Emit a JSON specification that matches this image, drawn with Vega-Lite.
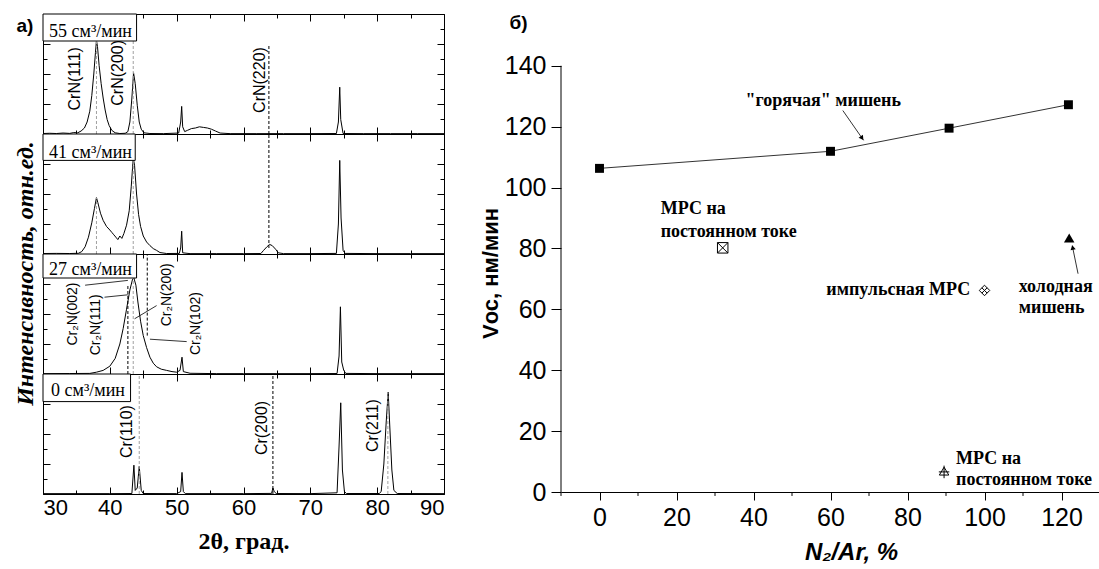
{
"$schema": "https://vega.github.io/schema/vega-lite/v6.json",
"background": "white",
"padding": {"left": 13, "top": 13, "right": 0, "bottom": 0},
"spacing": 33,
"config": {"view": {"stroke": null}, "axis": {"grid": false, "domainColor": "black", "tickColor": "black", "labelColor": "black", "titleColor": "black", "domainWidth": 1, "tickWidth": 1, "labelFont": "Liberation Sans", "labelFontSize": 23, "titleFont": "Liberation Sans", "labelOverlap": false}},
"datasets": {
"spec": [
{"p":"55","t":30,"i":0.004},{"p":"55","t":31,"i":0.006},{"p":"55","t":32,"i":0.004},{"p":"55","t":33,"i":0.008},{"p":"55","t":34,"i":0.005},{"p":"55","t":34.6,"i":0.012},{"p":"55","t":35.2,"i":0.01},{"p":"55","t":35.7,"i":0.025},{"p":"55","t":36.2,"i":0.05},{"p":"55","t":36.6,"i":0.1},{"p":"55","t":37.0,"i":0.19},{"p":"55","t":37.3,"i":0.32},{"p":"55","t":37.6,"i":0.5},{"p":"55","t":37.85,"i":0.68},{"p":"55","t":38.0,"i":0.78},{"p":"55","t":38.15,"i":0.73},{"p":"55","t":38.4,"i":0.57},{"p":"55","t":38.7,"i":0.42},{"p":"55","t":39.0,"i":0.3},{"p":"55","t":39.3,"i":0.2},{"p":"55","t":39.6,"i":0.12},{"p":"55","t":39.9,"i":0.07},{"p":"55","t":40.3,"i":0.03},{"p":"55","t":40.8,"i":0.01},{"p":"55","t":41.5,"i":0.004},{"p":"55","t":42.3,"i":0.006},{"p":"55","t":42.7,"i":0.02},{"p":"55","t":43.0,"i":0.1},{"p":"55","t":43.3,"i":0.3},{"p":"55","t":43.55,"i":0.51},{"p":"55","t":43.8,"i":0.42},{"p":"55","t":44.1,"i":0.24},{"p":"55","t":44.4,"i":0.1},{"p":"55","t":44.7,"i":0.04},{"p":"55","t":45.1,"i":0.01},{"p":"55","t":46,"i":0.004},{"p":"55","t":48,"i":0.003},{"p":"55","t":50.3,"i":0.008},{"p":"55","t":50.6,"i":0.1},{"p":"55","t":50.75,"i":0.23},{"p":"55","t":50.9,"i":0.06},{"p":"55","t":51.2,"i":0.02},{"p":"55","t":51.6,"i":0.03},{"p":"55","t":52.2,"i":0.045},{"p":"55","t":52.8,"i":0.05},{"p":"55","t":53.4,"i":0.06},{"p":"55","t":54.0,"i":0.055},{"p":"55","t":54.6,"i":0.05},{"p":"55","t":55.2,"i":0.04},{"p":"55","t":55.8,"i":0.025},{"p":"55","t":56.5,"i":0.008},{"p":"55","t":58,"i":0.003},{"p":"55","t":62,"i":0.003},{"p":"55","t":66,"i":0.003},{"p":"55","t":70,"i":0.003},{"p":"55","t":73.9,"i":0.004},{"p":"55","t":74.2,"i":0.1},{"p":"55","t":74.4,"i":0.39},{"p":"55","t":74.55,"i":0.12},{"p":"55","t":74.9,"i":0.004},{"p":"55","t":78,"i":0.003},{"p":"55","t":82,"i":0.003},{"p":"55","t":86,"i":0.003},{"p":"55","t":90,"i":0.003},
{"p":"41","t":30,"i":0.004},{"p":"41","t":32,"i":0.005},{"p":"41","t":34,"i":0.004},{"p":"41","t":35.3,"i":0.006},{"p":"41","t":35.8,"i":0.02},{"p":"41","t":36.3,"i":0.06},{"p":"41","t":36.8,"i":0.14},{"p":"41","t":37.3,"i":0.26},{"p":"41","t":37.7,"i":0.38},{"p":"41","t":38.0,"i":0.47},{"p":"41","t":38.2,"i":0.43},{"p":"41","t":38.6,"i":0.34},{"p":"41","t":39.0,"i":0.28},{"p":"41","t":39.5,"i":0.23},{"p":"41","t":40.0,"i":0.2},{"p":"41","t":40.3,"i":0.18},{"p":"41","t":40.6,"i":0.16},{"p":"41","t":40.9,"i":0.14},{"p":"41","t":41.2,"i":0.12},{"p":"41","t":41.5,"i":0.15},{"p":"41","t":41.8,"i":0.13},{"p":"41","t":42.1,"i":0.17},{"p":"41","t":42.5,"i":0.24},{"p":"41","t":42.9,"i":0.36},{"p":"41","t":43.2,"i":0.56},{"p":"41","t":43.5,"i":0.8},{"p":"41","t":43.7,"i":0.74},{"p":"41","t":44.0,"i":0.5},{"p":"41","t":44.3,"i":0.33},{"p":"41","t":44.6,"i":0.23},{"p":"41","t":45.0,"i":0.15},{"p":"41","t":45.5,"i":0.1},{"p":"41","t":46.0,"i":0.07},{"p":"41","t":46.5,"i":0.045},{"p":"41","t":47.0,"i":0.03},{"p":"41","t":47.5,"i":0.012},{"p":"41","t":48.5,"i":0.004},{"p":"41","t":50.4,"i":0.005},{"p":"41","t":50.6,"i":0.05},{"p":"41","t":50.75,"i":0.19},{"p":"41","t":50.9,"i":0.01},{"p":"41","t":52,"i":0.003},{"p":"41","t":56,"i":0.003},{"p":"41","t":60,"i":0.003},{"p":"41","t":62.6,"i":0.004},{"p":"41","t":63.0,"i":0.03},{"p":"41","t":63.5,"i":0.06},{"p":"41","t":63.9,"i":0.08},{"p":"41","t":64.3,"i":0.07},{"p":"41","t":64.8,"i":0.04},{"p":"41","t":65.2,"i":0.01},{"p":"41","t":66,"i":0.003},{"p":"41","t":70,"i":0.003},{"p":"41","t":73.9,"i":0.005},{"p":"41","t":74.2,"i":0.25},{"p":"41","t":74.4,"i":0.78},{"p":"41","t":74.6,"i":0.3},{"p":"41","t":74.9,"i":0.03},{"p":"41","t":75.2,"i":0.005},{"p":"41","t":80,"i":0.003},{"p":"41","t":85,"i":0.003},{"p":"41","t":90,"i":0.003},
{"p":"27","t":30,"i":0.003},{"p":"27","t":34,"i":0.004},{"p":"27","t":37,"i":0.005},{"p":"27","t":38,"i":0.015},{"p":"27","t":39,"i":0.03},{"p":"27","t":40,"i":0.065},{"p":"27","t":40.8,"i":0.13},{"p":"27","t":41.5,"i":0.25},{"p":"27","t":42.0,"i":0.38},{"p":"27","t":42.5,"i":0.54},{"p":"27","t":43.0,"i":0.7},{"p":"27","t":43.4,"i":0.79},{"p":"27","t":43.6,"i":0.8},{"p":"27","t":43.9,"i":0.74},{"p":"27","t":44.2,"i":0.6},{"p":"27","t":44.6,"i":0.44},{"p":"27","t":45.0,"i":0.32},{"p":"27","t":45.5,"i":0.22},{"p":"27","t":46.0,"i":0.14},{"p":"27","t":46.5,"i":0.09},{"p":"27","t":47.0,"i":0.06},{"p":"27","t":47.7,"i":0.04},{"p":"27","t":48.5,"i":0.03},{"p":"27","t":49.3,"i":0.02},{"p":"27","t":50.0,"i":0.015},{"p":"27","t":50.5,"i":0.03},{"p":"27","t":50.8,"i":0.14},{"p":"27","t":51.0,"i":0.02},{"p":"27","t":52,"i":0.006},{"p":"27","t":56,"i":0.003},{"p":"27","t":60,"i":0.003},{"p":"27","t":65,"i":0.003},{"p":"27","t":70,"i":0.003},{"p":"27","t":74.0,"i":0.004},{"p":"27","t":74.3,"i":0.15},{"p":"27","t":74.5,"i":0.56},{"p":"27","t":74.7,"i":0.1},{"p":"27","t":75.0,"i":0.03},{"p":"27","t":75.3,"i":0.005},{"p":"27","t":80,"i":0.003},{"p":"27","t":90,"i":0.003},
{"p":"0","t":30,"i":0.003},{"p":"0","t":35,"i":0.003},{"p":"0","t":40,"i":0.003},{"p":"0","t":43.3,"i":0.004},{"p":"0","t":43.6,"i":0.24},{"p":"0","t":43.8,"i":0.03},{"p":"0","t":44.1,"i":0.05},{"p":"0","t":44.4,"i":0.23},{"p":"0","t":44.7,"i":0.03},{"p":"0","t":45.0,"i":0.004},{"p":"0","t":50,"i":0.003},{"p":"0","t":50.6,"i":0.02},{"p":"0","t":50.8,"i":0.18},{"p":"0","t":51.0,"i":0.02},{"p":"0","t":51.3,"i":0.003},{"p":"0","t":55,"i":0.003},{"p":"0","t":60,"i":0.003},{"p":"0","t":64.2,"i":0.005},{"p":"0","t":64.4,"i":0.05},{"p":"0","t":64.6,"i":0.02},{"p":"0","t":64.9,"i":0.004},{"p":"0","t":70,"i":0.003},{"p":"0","t":74.0,"i":0.01},{"p":"0","t":74.3,"i":0.4},{"p":"0","t":74.55,"i":0.76},{"p":"0","t":74.8,"i":0.2},{"p":"0","t":75.1,"i":0.02},{"p":"0","t":75.4,"i":0.004},{"p":"0","t":80.3,"i":0.004},{"p":"0","t":80.6,"i":0.02},{"p":"0","t":81.0,"i":0.25},{"p":"0","t":81.35,"i":0.6},{"p":"0","t":81.65,"i":0.85},{"p":"0","t":81.9,"i":0.55},{"p":"0","t":82.2,"i":0.2},{"p":"0","t":82.5,"i":0.03},{"p":"0","t":83,"i":0.004},{"p":"0","t":90,"i":0.003}
],
"vlines": [
{"p":"55","x":38.0,"y1":0,"y2":0.78,"c":"g"},{"p":"55","x":43.5,"y1":0,"y2":1,"c":"g"},{"p":"55","x":63.8,"y1":0,"y2":0.74,"c":"k"},
{"p":"41","x":38.0,"y1":0,"y2":0.47,"c":"g"},{"p":"41","x":43.5,"y1":0,"y2":1,"c":"g"},{"p":"41","x":63.8,"y1":0.05,"y2":1,"c":"k"},
{"p":"27","x":42.7,"y1":0,"y2":0.74,"c":"k"},{"p":"27","x":43.5,"y1":0,"y2":0.8,"c":"g"},{"p":"27","x":45.6,"y1":0.32,"y2":1,"c":"k"},
{"p":"0","x":44.4,"y1":0,"y2":1,"c":"g"},{"p":"0","x":64.4,"y1":0,"y2":1,"c":"k"},{"p":"0","x":81.6,"y1":0,"y2":0.85,"c":"g"}
],
"legend": [
{"p":"55","x1":30,"x2":44.0,"y1":0.775,"y2":1,"tx":30.9,"ty":0.85,"text":"55 см³/мин"},
{"p":"41","x1":30,"x2":43.8,"y1":0.78,"y2":1,"tx":30.9,"ty":0.84,"text":"41 см³/мин"},
{"p":"27","x1":30,"x2":44.0,"y1":0.80,"y2":1,"tx":30.9,"ty":0.87,"text":"27 см³/мин"},
{"p":"0","x1":30,"x2":43.1,"y1":0.77,"y2":1,"tx":31.2,"ty":0.86,"text":"0 см³/мин"}
],
"plabels": [
{"p":"55","x":34.75,"y":0.46,"text":"CrN(111)","fs":16},{"p":"55","x":41.2,"y":0.51,"text":"CrN(200)","fs":16},{"p":"55","x":62.45,"y":0.45,"text":"CrN(220)","fs":16},
{"p":"27","x":34.45,"y":0.50,"text":"Cr₂N(002)","fs":14},{"p":"27","x":38.0,"y":0.41,"text":"Cr₂N(111)","fs":14},{"p":"27","x":48.5,"y":0.66,"text":"Cr₂N(200)","fs":14},{"p":"27","x":52.95,"y":0.42,"text":"Cr₂N(102)","fs":14},
{"p":"0","x":42.5,"y":0.52,"text":"Cr(110)","fs":16},{"p":"0","x":62.7,"y":0.55,"text":"Cr(200)","fs":16},{"p":"0","x":79.4,"y":0.57,"text":"Cr(211)","fs":16}
],
"leaders": [
{"x":36.3,"y":0.74,"x2":42.7,"y2":0.78},{"x":39.2,"y":0.64,"x2":42.7,"y2":0.66},{"x":47.0,"y":0.57,"x2":43.7,"y2":0.46},{"x":51.5,"y":0.27,"x2":46.0,"y2":0.29}
],
"rate": [{"n":0,"v":106.3},{"n":60,"v":111.9},{"n":90.8,"v":119.5},{"n":121.8,"v":127.2}],
"marks": [{"n":32,"v":80.2,"k":"dc"},{"n":100,"v":66.2,"k":"pulse"},{"n":89.5,"v":6.6,"k":"tri"}],
"cold": [{"n":122,"v":83.4}],
"arrows": [{"n":63.2,"v":125.3,"n2":68.6,"v2":115.5},{"n":124.3,"v":71.7,"n2":122.8,"v2":80.9}],
"heads": [{"n":68.2,"v":116.2,"a":145},{"n":122.9,"v":80.3,"a":348}],
"minorx": [{"n":-10,"v":0,"v2":-1.3},{"n":10,"v":0,"v2":-1.3},{"n":30,"v":0,"v2":-1.3},{"n":50,"v":0,"v2":-1.3},{"n":70,"v":0,"v2":-1.3},{"n":90,"v":0,"v2":-1.3},{"n":110,"v":0,"v2":-1.3},{"n":130,"v":0,"v2":-1.3}],
"yline": [{"n":-10,"v":0,"v2":140}],
"rlabels": [
{"n":37.9,"v":128.5,"t":"\"горячая\" мишень"},
{"n":15.9,"v":93.0,"t":"МРС на"},{"n":15.9,"v":85.5,"t":"постоянном токе"},
{"n":58.9,"v":66.2,"t":"импульсная МРС"},
{"n":108.9,"v":67.4,"t":"холодная"},{"n":108.9,"v":60.5,"t":"мишень"},
{"n":92.6,"v":10.7,"t":"МРС на"},{"n":92.6,"v":3.8,"t":"постоянном токе"}
],
"blabel": [{"n": -21, "v": 154, "t": "б)"}]
},
"hconcat": [
{
"vconcat": [
{
"width": 401, "height": 120,
"layer": [
{"data": {"name": "spec"}, "transform": [{"filter": "datum.p === '55'"}], "mark": {"type": "line", "color": "black", "strokeWidth": 1},
 "encoding": {
  "x": {"field": "t", "type": "quantitative", "scale": {"domain": [30, 90], "nice": false, "zero": false}, "axis": {"orient": "bottom", "values": [30,35,40,45,50,55,60,65,70,75,80,85,90], "labels": false, "title": null, "tickSize": {"condition": {"test": "datum.value % 10 === 0", "value": -7}, "value": -4}}},
  "y": {"field": "i", "type": "quantitative", "scale": {"domain": [0, 1], "nice": false}, "axis": {"orient": "left", "values": [0,0.125,0.25,0.375,0.5,0.625,0.75,0.875,1], "labels": false, "title": null, "tickSize": {"condition": {"test": "round(datum.value*8) % 2 === 0", "value": -7}, "value": -4}}}
 }},
{"data": {"name": "vlines"}, "transform": [{"filter": "datum.p === '55'"}], "mark": {"type": "rule", "strokeDash": [3, 2], "strokeWidth": 1},
 "encoding": {
  "x": {"field": "x", "type": "quantitative", "scale": {"domain": [30, 90], "nice": false, "zero": false}, "axis": {"orient": "top", "values": [30,35,40,45,50,55,60,65,70,75,80,85,90], "labels": false, "title": null, "tickSize": {"condition": {"test": "datum.value % 10 === 0", "value": -7}, "value": -4}}},
  "y": {"field": "y1", "type": "quantitative", "scale": {"domain": [0, 1], "nice": false}, "axis": {"orient": "right", "values": [0,0.125,0.25,0.375,0.5,0.625,0.75,0.875,1], "labels": false, "title": null, "tickSize": {"condition": {"test": "round(datum.value*8) % 2 === 0", "value": -7}, "value": -4}}},
  "y2": {"field": "y2"},
  "color": {"field": "c", "type": "nominal", "scale": {"domain": ["k", "g"], "range": ["#000000", "#a0a0a0"]}, "legend": null}
 }},
{"data": {"name": "legend"}, "transform": [{"filter": "datum.p === '55'"}], "mark": {"type": "rect", "fill": "white", "stroke": "black", "strokeWidth": 1},
 "encoding": {"x": {"field": "x1", "type": "quantitative", "axis": null}, "x2": {"field": "x2"}, "y": {"field": "y1", "type": "quantitative", "axis": null}, "y2": {"field": "y2"}}},
{"data": {"name": "legend"}, "transform": [{"filter": "datum.p === '55'"}], "mark": {"type": "text", "align": "left", "baseline": "middle", "font": "Liberation Serif", "fontSize": 18, "color": "black"},
 "encoding": {"x": {"field": "tx", "type": "quantitative", "axis": null}, "y": {"field": "ty", "type": "quantitative", "axis": null}, "text": {"field": "text"}}},
{"data": {"name": "plabels"}, "transform": [{"filter": "datum.p === '55'"}], "mark": {"type": "text", "angle": 270, "align": "center", "baseline": "middle", "font": "Liberation Sans", "color": "black"},
 "encoding": {"x": {"field": "x", "type": "quantitative", "axis": null}, "y": {"field": "y", "type": "quantitative", "axis": null}, "text": {"field": "text"}, "size": {"field": "fs", "type": "quantitative", "scale": null}}},
{"data": {"values": [{"x": 27.3, "y": 0.9, "t": "а)"}]}, "mark": {"type": "text", "align": "center", "baseline": "middle", "font": "Liberation Sans", "fontWeight": "bold", "fontSize": 19, "color": "black"},
 "encoding": {"x": {"field": "x", "type": "quantitative", "axis": null}, "y": {"field": "y", "type": "quantitative", "axis": null}, "text": {"field": "t"}}}
],
"resolve": {"axis": {"x": "independent", "y": "independent"}}
},
{
"width": 401, "height": 120,
"layer": [
{"data": {"name": "spec"}, "transform": [{"filter": "datum.p === '41'"}], "mark": {"type": "line", "color": "black", "strokeWidth": 1},
 "encoding": {
  "x": {"field": "t", "type": "quantitative", "scale": {"domain": [30, 90], "nice": false, "zero": false}, "axis": {"orient": "bottom", "values": [30,35,40,45,50,55,60,65,70,75,80,85,90], "labels": false, "title": null, "tickSize": {"condition": {"test": "datum.value % 10 === 0", "value": -7}, "value": -4}}},
  "y": {"field": "i", "type": "quantitative", "scale": {"domain": [0, 1], "nice": false}, "axis": {"orient": "left", "values": [0,0.125,0.25,0.375,0.5,0.625,0.75,0.875,1], "labels": false, "title": "Интенсивность, отн.ед.", "titleFont": "Liberation Serif", "titleFontSize": 24, "titleFontWeight": "bold", "titleFontStyle": "italic", "titleY": 139, "titlePadding": 5, "tickSize": {"condition": {"test": "round(datum.value*8) % 2 === 0", "value": -7}, "value": -4}}}
 }},
{"data": {"name": "vlines"}, "transform": [{"filter": "datum.p === '41'"}], "mark": {"type": "rule", "strokeDash": [3, 2], "strokeWidth": 1},
 "encoding": {
  "x": {"field": "x", "type": "quantitative", "scale": {"domain": [30, 90], "nice": false, "zero": false}, "axis": {"orient": "top", "values": [30,35,40,45,50,55,60,65,70,75,80,85,90], "labels": false, "title": null, "tickSize": {"condition": {"test": "datum.value % 10 === 0", "value": -7}, "value": -4}}},
  "y": {"field": "y1", "type": "quantitative", "scale": {"domain": [0, 1], "nice": false}, "axis": {"orient": "right", "values": [0,0.125,0.25,0.375,0.5,0.625,0.75,0.875,1], "labels": false, "title": null, "tickSize": {"condition": {"test": "round(datum.value*8) % 2 === 0", "value": -7}, "value": -4}}},
  "y2": {"field": "y2"},
  "color": {"field": "c", "type": "nominal", "scale": {"domain": ["k", "g"], "range": ["#000000", "#a0a0a0"]}, "legend": null}
 }},
{"data": {"name": "legend"}, "transform": [{"filter": "datum.p === '41'"}], "mark": {"type": "rect", "fill": "white", "stroke": "black", "strokeWidth": 1},
 "encoding": {"x": {"field": "x1", "type": "quantitative", "axis": null}, "x2": {"field": "x2"}, "y": {"field": "y1", "type": "quantitative", "axis": null}, "y2": {"field": "y2"}}},
{"data": {"name": "legend"}, "transform": [{"filter": "datum.p === '41'"}], "mark": {"type": "text", "align": "left", "baseline": "middle", "font": "Liberation Serif", "fontSize": 18, "color": "black"},
 "encoding": {"x": {"field": "tx", "type": "quantitative", "axis": null}, "y": {"field": "ty", "type": "quantitative", "axis": null}, "text": {"field": "text"}}}
],
"resolve": {"axis": {"x": "independent", "y": "independent"}}
},
{
"width": 401, "height": 120,
"layer": [
{"data": {"name": "spec"}, "transform": [{"filter": "datum.p === '27'"}], "mark": {"type": "line", "color": "black", "strokeWidth": 1},
 "encoding": {
  "x": {"field": "t", "type": "quantitative", "scale": {"domain": [30, 90], "nice": false, "zero": false}, "axis": {"orient": "bottom", "values": [30,35,40,45,50,55,60,65,70,75,80,85,90], "labels": false, "title": null, "tickSize": {"condition": {"test": "datum.value % 10 === 0", "value": -7}, "value": -4}}},
  "y": {"field": "i", "type": "quantitative", "scale": {"domain": [0, 1], "nice": false}, "axis": {"orient": "left", "values": [0,0.125,0.25,0.375,0.5,0.625,0.75,0.875,1], "labels": false, "title": null, "tickSize": {"condition": {"test": "round(datum.value*8) % 2 === 0", "value": -7}, "value": -4}}}
 }},
{"data": {"name": "vlines"}, "transform": [{"filter": "datum.p === '27'"}], "mark": {"type": "rule", "strokeDash": [3, 2], "strokeWidth": 1},
 "encoding": {
  "x": {"field": "x", "type": "quantitative", "scale": {"domain": [30, 90], "nice": false, "zero": false}, "axis": {"orient": "top", "values": [30,35,40,45,50,55,60,65,70,75,80,85,90], "labels": false, "title": null, "tickSize": {"condition": {"test": "datum.value % 10 === 0", "value": -7}, "value": -4}}},
  "y": {"field": "y1", "type": "quantitative", "scale": {"domain": [0, 1], "nice": false}, "axis": {"orient": "right", "values": [0,0.125,0.25,0.375,0.5,0.625,0.75,0.875,1], "labels": false, "title": null, "tickSize": {"condition": {"test": "round(datum.value*8) % 2 === 0", "value": -7}, "value": -4}}},
  "y2": {"field": "y2"},
  "color": {"field": "c", "type": "nominal", "scale": {"domain": ["k", "g"], "range": ["#000000", "#a0a0a0"]}, "legend": null}
 }},
{"data": {"name": "leaders"}, "mark": {"type": "rule", "color": "black", "strokeWidth": 0.8},
 "encoding": {"x": {"field": "x", "type": "quantitative", "axis": null}, "x2": {"field": "x2"}, "y": {"field": "y", "type": "quantitative", "axis": null}, "y2": {"field": "y2"}}},
{"data": {"name": "legend"}, "transform": [{"filter": "datum.p === '27'"}], "mark": {"type": "rect", "fill": "white", "stroke": "black", "strokeWidth": 1},
 "encoding": {"x": {"field": "x1", "type": "quantitative", "axis": null}, "x2": {"field": "x2"}, "y": {"field": "y1", "type": "quantitative", "axis": null}, "y2": {"field": "y2"}}},
{"data": {"name": "legend"}, "transform": [{"filter": "datum.p === '27'"}], "mark": {"type": "text", "align": "left", "baseline": "middle", "font": "Liberation Serif", "fontSize": 18, "color": "black"},
 "encoding": {"x": {"field": "tx", "type": "quantitative", "axis": null}, "y": {"field": "ty", "type": "quantitative", "axis": null}, "text": {"field": "text"}}},
{"data": {"name": "plabels"}, "transform": [{"filter": "datum.p === '27'"}], "mark": {"type": "text", "angle": 270, "align": "center", "baseline": "middle", "font": "Liberation Sans", "color": "black"},
 "encoding": {"x": {"field": "x", "type": "quantitative", "axis": null}, "y": {"field": "y", "type": "quantitative", "axis": null}, "text": {"field": "text"}, "size": {"field": "fs", "type": "quantitative", "scale": null}}}
],
"resolve": {"axis": {"x": "independent", "y": "independent"}}
},
{
"width": 401, "height": 120,
"layer": [
{"data": {"name": "spec"}, "transform": [{"filter": "datum.p === '0'"}], "mark": {"type": "line", "color": "black", "strokeWidth": 1},
 "encoding": {
  "x": {"field": "t", "type": "quantitative", "scale": {"domain": [30, 90], "nice": false, "zero": false}, "axis": {"orient": "bottom", "values": [30,35,40,45,50,55,60,65,70,75,80,85,90], "labels": true, "labelExpr": "datum.value % 10 === 0 ? datum.label : ''", "labelFontSize": 22, "labelPadding": 10, "title": "2θ, град.", "titleFont": "Liberation Serif", "titleFontSize": 24, "titleFontWeight": "bold", "titlePadding": 8, "tickSize": {"condition": {"test": "datum.value % 10 === 0", "value": -7}, "value": -4}}},
  "y": {"field": "i", "type": "quantitative", "scale": {"domain": [0, 1], "nice": false}, "axis": {"orient": "left", "values": [0,0.125,0.25,0.375,0.5,0.625,0.75,0.875,1], "labels": false, "title": null, "tickSize": {"condition": {"test": "round(datum.value*8) % 2 === 0", "value": -7}, "value": -4}}}
 }},
{"data": {"name": "vlines"}, "transform": [{"filter": "datum.p === '0'"}], "mark": {"type": "rule", "strokeDash": [3, 2], "strokeWidth": 1},
 "encoding": {
  "x": {"field": "x", "type": "quantitative", "scale": {"domain": [30, 90], "nice": false, "zero": false}, "axis": {"orient": "top", "values": [30,35,40,45,50,55,60,65,70,75,80,85,90], "labels": false, "title": null, "tickSize": {"condition": {"test": "datum.value % 10 === 0", "value": -7}, "value": -4}}},
  "y": {"field": "y1", "type": "quantitative", "scale": {"domain": [0, 1], "nice": false}, "axis": {"orient": "right", "values": [0,0.125,0.25,0.375,0.5,0.625,0.75,0.875,1], "labels": false, "title": null, "tickSize": {"condition": {"test": "round(datum.value*8) % 2 === 0", "value": -7}, "value": -4}}},
  "y2": {"field": "y2"},
  "color": {"field": "c", "type": "nominal", "scale": {"domain": ["k", "g"], "range": ["#000000", "#a0a0a0"]}, "legend": null}
 }},
{"data": {"name": "legend"}, "transform": [{"filter": "datum.p === '0'"}], "mark": {"type": "rect", "fill": "white", "stroke": "black", "strokeWidth": 1},
 "encoding": {"x": {"field": "x1", "type": "quantitative", "axis": null}, "x2": {"field": "x2"}, "y": {"field": "y1", "type": "quantitative", "axis": null}, "y2": {"field": "y2"}}},
{"data": {"name": "legend"}, "transform": [{"filter": "datum.p === '0'"}], "mark": {"type": "text", "align": "left", "baseline": "middle", "font": "Liberation Serif", "fontSize": 18, "color": "black"},
 "encoding": {"x": {"field": "tx", "type": "quantitative", "axis": null}, "y": {"field": "ty", "type": "quantitative", "axis": null}, "text": {"field": "text"}}},
{"data": {"name": "plabels"}, "transform": [{"filter": "datum.p === '0'"}], "mark": {"type": "text", "angle": 270, "align": "center", "baseline": "middle", "font": "Liberation Sans", "color": "black"},
 "encoding": {"x": {"field": "x", "type": "quantitative", "axis": null}, "y": {"field": "y", "type": "quantitative", "axis": null}, "text": {"field": "text"}, "size": {"field": "fs", "type": "quantitative", "scale": null}}}
],
"resolve": {"axis": {"x": "independent", "y": "independent"}}
}
],
"spacing": 0,
"bounds": "flush"
},
{
"width": 539, "height": 478,
"layer": [
{"data": {"name": "rate"}, "mark": {"type": "line", "color": "#333333", "strokeWidth": 1},
 "encoding": {
  "x": {"field": "n", "type": "quantitative", "scale": {"domain": [-10, 130], "nice": false, "zero": false}, "axis": {"orient": "bottom", "values": [0,20,40,60,80,100,120], "labelFontSize": 25, "labelPadding": 5, "labelFlush": false, "labelOverlap": false, "tickSize": 8, "title": "N₂/Ar, %", "titleFontSize": 24, "titleFontWeight": "bold", "titleFontStyle": "italic", "titleX": 290, "titlePadding": 10}},
  "y": {"field": "v", "type": "quantitative", "scale": {"domain": [0, 157], "nice": false}, "axis": {"orient": "left", "domain": false, "values": [0,10,20,30,40,50,60,70,80,90,100,110,120,130,140], "labelExpr": "datum.value % 20 === 0 ? datum.label : ''", "labelFontSize": 25, "labelPadding": 5, "labelOverlap": false, "tickSize": {"condition": {"test": "datum.value % 20 === 0", "value": 10}, "value": 5}, "title": "Vос, нм/мин", "titleFontSize": 22, "titleFontWeight": "bold", "titleY": 259, "titlePadding": 2}}
 }},
{"data": {"name": "yline"}, "mark": {"type": "rule", "color": "black", "strokeWidth": 1},
 "encoding": {"x": {"field": "n", "type": "quantitative"}, "y": {"field": "v", "type": "quantitative"}, "y2": {"field": "v2"}}},
{"data": {"name": "minorx"}, "mark": {"type": "rule", "color": "black", "strokeWidth": 1},
 "encoding": {"x": {"field": "n", "type": "quantitative"}, "y": {"field": "v", "type": "quantitative"}, "y2": {"field": "v2"}}},
{"data": {"name": "rate"}, "mark": {"type": "point", "shape": "square", "filled": true, "color": "black", "size": 80, "opacity": 1},
 "encoding": {"x": {"field": "n", "type": "quantitative"}, "y": {"field": "v", "type": "quantitative"}}},
{"data": {"name": "marks"}, "mark": {"type": "point", "filled": false, "color": "black", "strokeWidth": 1, "size": 110, "opacity": 1},
 "encoding": {"x": {"field": "n", "type": "quantitative"}, "y": {"field": "v", "type": "quantitative"},
  "shape": {"field": "k", "type": "nominal", "scale": {"domain": ["dc", "pulse", "tri"], "range": ["M-1,-1H1M-1,1H1M-1,-1L1,1M1,-1L-1,1M-1,-1V1M1,-1V1", "M0,-1L1,0L0,1L-1,0Z M-0.5,-0.5L0.5,0.5 M0.5,-0.5L-0.5,0.5", "M0,-0.9L0.9,0.6H-0.9Z M-1,0H1 M0,-1.2V1.2"]}, "legend": null}}},
{"data": {"name": "cold"}, "mark": {"type": "point", "shape": "triangle-up", "filled": true, "color": "black", "size": 110, "opacity": 1},
 "encoding": {"x": {"field": "n", "type": "quantitative"}, "y": {"field": "v", "type": "quantitative"}}},
{"data": {"name": "arrows"}, "mark": {"type": "rule", "color": "black", "strokeWidth": 0.8},
 "encoding": {"x": {"field": "n", "type": "quantitative"}, "y": {"field": "v", "type": "quantitative"}, "x2": {"field": "n2"}, "y2": {"field": "v2"}}},
{"data": {"name": "heads"}, "mark": {"type": "point", "shape": "triangle-up", "filled": true, "color": "black", "size": 28, "opacity": 1},
 "encoding": {"x": {"field": "n", "type": "quantitative"}, "y": {"field": "v", "type": "quantitative"}, "angle": {"field": "a", "type": "quantitative", "scale": null}}},
{"data": {"name": "rlabels"}, "mark": {"type": "text", "align": "left", "baseline": "middle", "font": "Liberation Serif", "fontWeight": "bold", "fontSize": 18, "color": "black"},
 "encoding": {"x": {"field": "n", "type": "quantitative"}, "y": {"field": "v", "type": "quantitative"}, "text": {"field": "t"}}},
{"data": {"name": "blabel"}, "mark": {"type": "text", "align": "center", "baseline": "middle", "font": "Liberation Sans", "fontWeight": "bold", "fontSize": 19, "color": "black"},
 "encoding": {"x": {"field": "n", "type": "quantitative"}, "y": {"field": "v", "type": "quantitative"}, "text": {"field": "t"}}}
]
}
]
}
